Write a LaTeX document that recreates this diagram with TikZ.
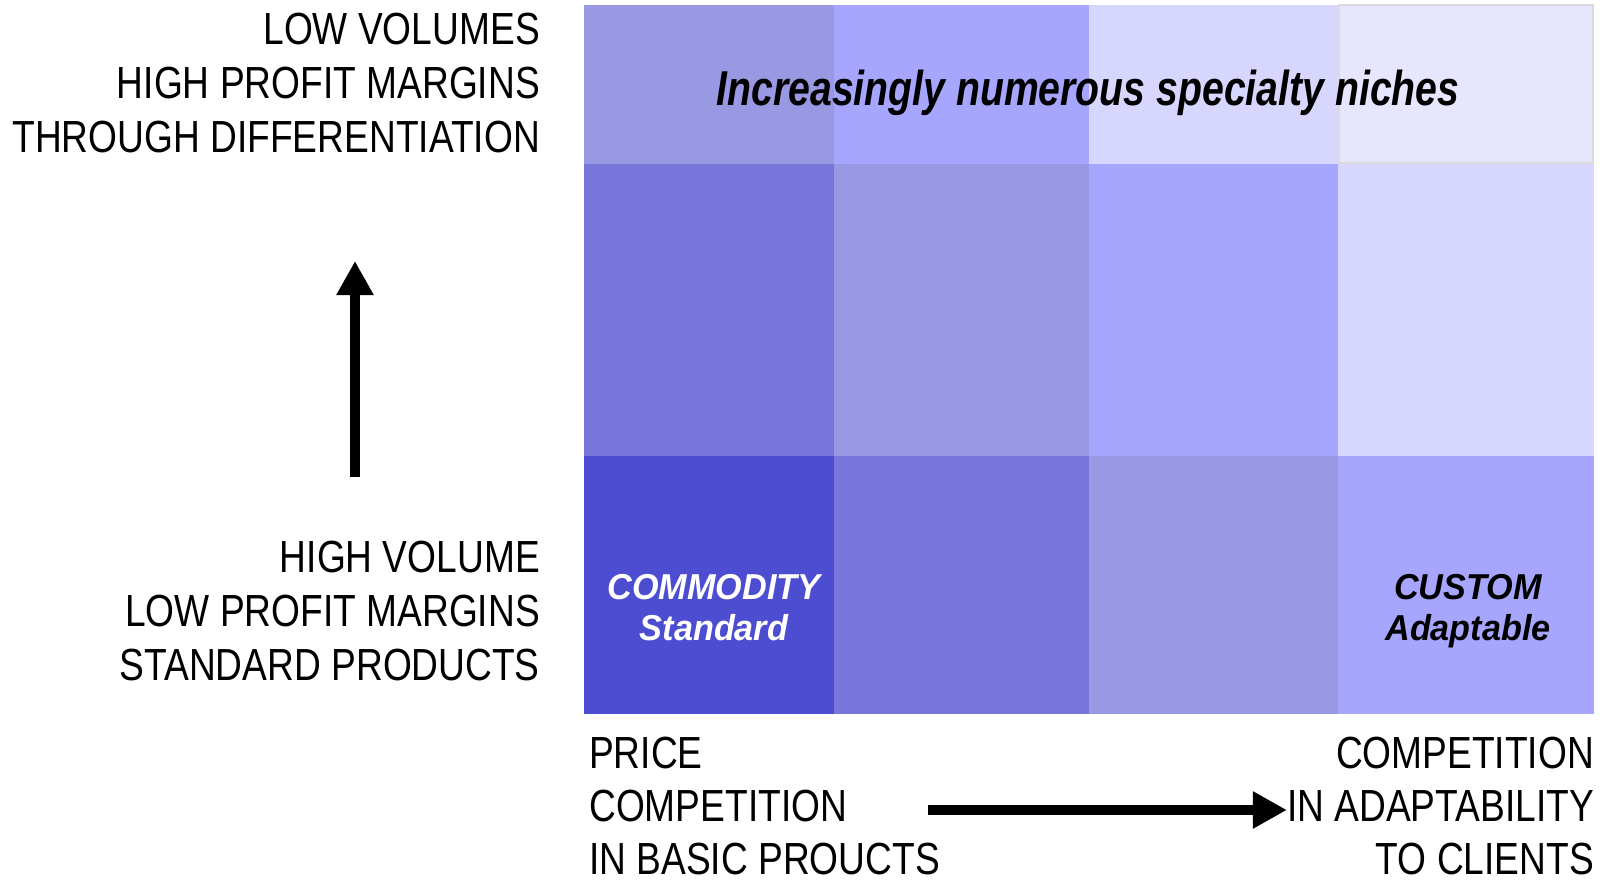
\documentclass[tikz,border=0pt]{standalone}
\usepackage{fontspec}
\setmainfont[FakeStretch=0.825]{Liberation Sans}
\newfontfamily\widesans[FakeStretch=0.95]{Liberation Sans}
\newfontfamily\titlesans[FakeStretch=0.8]{Liberation Sans}
\usetikzlibrary{arrows.meta,positioning}
\definecolor{shadeA}{HTML}{4D4DD1}
\definecolor{shadeB}{HTML}{7676DB}
\definecolor{shadeC}{HTML}{9999E3}
\definecolor{shadeD}{HTML}{A6A6FF}
\definecolor{shadeE}{HTML}{D6D6FF}
\definecolor{shadeF}{HTML}{E6E6FF}
\definecolor{nicheEdge}{HTML}{DADADA}
\tikzset{
  axislab/.style={inner sep=0pt, font=\fontsize{45}{54}\selectfont},
  celllab/.style={inner sep=0pt, align=center, font=\widesans\fontsize{36}{41}\selectfont\bfseries\itshape},
  bigarr/.style={-{Triangle[length=34pt,width=35pt]}, line width=10pt},
}

\begin{document}
\begin{tikzpicture}[x=1pt, y=-1pt]
\useasboundingbox (0,0) rectangle (1607,883);
% top row
\fill[shadeC] (584,5) rectangle (834,164);
\fill[shadeD] (834,5) rectangle (1089,164);
\fill[shadeE] (1089,5) rectangle (1338,164);
\fill[shadeF] (1338,5) rectangle (1594,164);
\draw[nicheEdge, line width=2pt] (1339,5) rectangle (1593,163);
% middle row
\fill[shadeB] (584,164) rectangle (834,456);
\fill[shadeC] (834,164) rectangle (1089,456);
\fill[shadeD] (1089,164) rectangle (1338,456);
\fill[shadeE] (1338,164) rectangle (1594,456);
% bottom row
\fill[shadeA] (584,456) rectangle (834,714);
\fill[shadeB] (834,456) rectangle (1089,714);
\fill[shadeC] (1089,456) rectangle (1338,714);
\fill[shadeD] (1338,456) rectangle (1594,714);
\node[anchor=base, inner sep=0pt, font=\titlesans\fontsize{49}{54}\selectfont\bfseries\itshape] (niches) at (1088,105) {Increasingly numerous specialty niches};
\node[celllab, text=white, anchor=north] (commodity) at (714,574) {COMMODITY\\Standard};
\node[celllab, anchor=north] (custom) at (1468,574) {CUSTOM\\Adaptable};
\node[axislab, align=right, anchor=north east] (lowvol) at (540,13) {LOW VOLUMES\\HIGH PROFIT MARGINS\\THROUGH DIFFERENTIATION};
\node[axislab, align=right, anchor=north east] (highvol) at (540,541) {HIGH VOLUME\\LOW PROFIT MARGINS\\STANDARD PRODUCTS};
\node[axislab, align=left, anchor=north west, font=\fontsize{45}{53}\selectfont] (price) at (589,737) {PRICE\\COMPETITION\\IN BASIC PROUCTS};
\node[axislab, align=right, anchor=north east, font=\fontsize{45}{53}\selectfont] (adapt) at (1594,737) {COMPETITION\\IN ADAPTABILITY\\TO CLIENTS};
\coordinate (vfoot) at (355,477);
\coordinate (vtip) at (355,261);
\coordinate (hstart) at (928,810);
\draw[bigarr] (vfoot) -- (vtip);
\draw[bigarr] (hstart) -- (hstart -| adapt.west);
\end{tikzpicture}
\end{document}
